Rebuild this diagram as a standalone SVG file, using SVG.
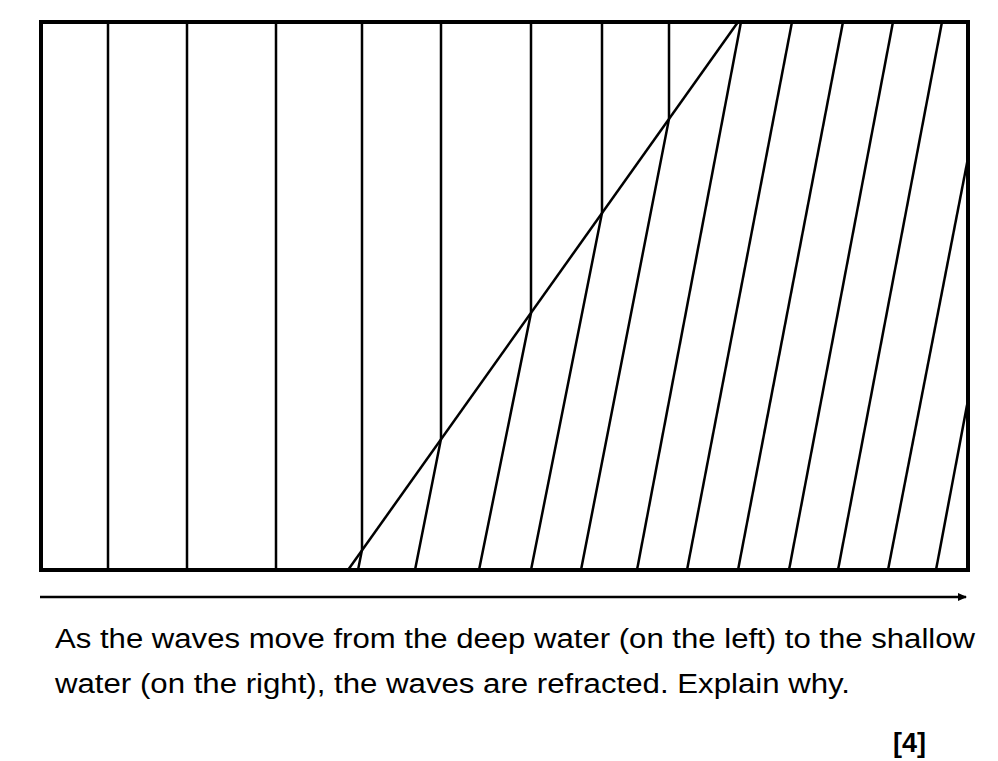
<svg xmlns="http://www.w3.org/2000/svg" width="998" height="761" viewBox="0 0 998 761">
<style>
.l{stroke:#000;stroke-width:2.5;fill:none}
.t{font-family:"Liberation Sans",Arial,sans-serif;font-size:27px;fill:#000}
</style>
<defs><marker id="ah" markerWidth="10" markerHeight="10" refX="8" refY="5" orient="auto" markerUnits="userSpaceOnUse"><path d="M0,1 L9,5 L0,9 Z" fill="#000"/></marker></defs>
<rect width="998" height="761" fill="#fff"/>
<g id="waves" class="l">
<line x1="108" y1="22" x2="108" y2="570"/>
<line x1="187" y1="22" x2="187" y2="570"/>
<line x1="276" y1="22" x2="276" y2="570"/>
<polyline points="362,22 362,550 358,570"/>
<polyline points="441,22 441,439 415,570"/>
<polyline points="531,22 531,313 479,570"/>
<polyline points="602,22 602,213 531,570"/>
<polyline points="669,22 669,119 581,570"/>
<line x1="741" y1="22" x2="637" y2="570"/>
<line x1="792" y1="22" x2="687" y2="570"/>
<line x1="843" y1="22" x2="738" y2="570"/>
<line x1="893" y1="22" x2="789" y2="570"/>
<line x1="942" y1="22" x2="838" y2="570"/>
<line x1="968" y1="158" x2="888" y2="570"/>
<line x1="968" y1="400" x2="936" y2="570"/>
<line x1="348" y1="570" x2="738" y2="22"/>
</g>
<rect x="41" y="22" width="927" height="548" fill="none" stroke="#000" stroke-width="4"/>
<g id="connectors"><line x1="40" y1="597" x2="966" y2="597" stroke="#000" stroke-width="2.5" marker-end="url(#ah)"/></g>
<text class="t" x="55" y="648" textLength="920" lengthAdjust="spacingAndGlyphs">As the waves move from the deep water (on the left) to the shallow</text>
<text class="t" x="55" y="693" textLength="795" lengthAdjust="spacingAndGlyphs">water (on the right), the waves are refracted. Explain why.</text>
<text class="t" x="893" y="752" font-size="25" font-weight="bold">[4]</text>
</svg>
